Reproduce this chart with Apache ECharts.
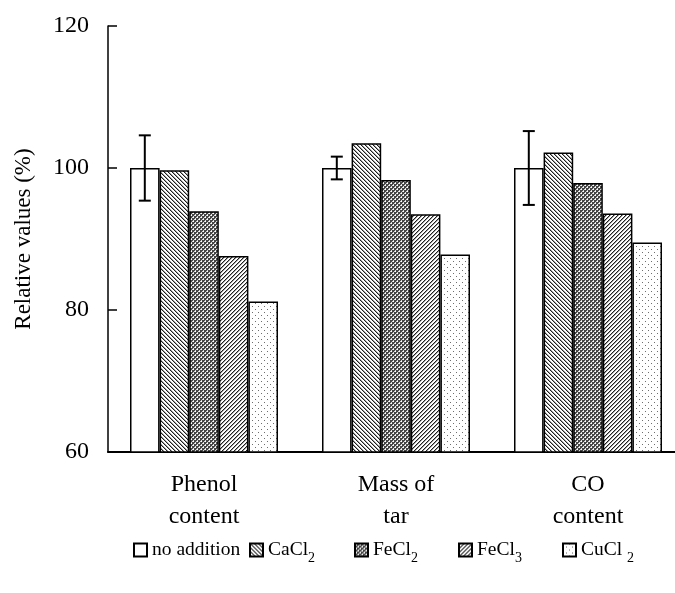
<!DOCTYPE html>
<html>
<head>
<meta charset="utf-8">
<script src="https://cdn.jsdelivr.net/npm/echarts@6/dist/echarts.min.js"></script>
<style>
  html, body { margin: 0; padding: 0; background: #fff; }
  #chart { width: 675px; height: 593px; }
</style>
</head>
<body>
<div id="chart"></div>
<script>
// data
var categories = ['Phenol\ncontent', 'Mass of\ntar', 'CO\ncontent'];
var seriesNames = ['no addition', 'CaCl2', 'FeCl2', 'FeCl3', 'CuCl2'];
var noAddition = [100, 100, 100];
var noAdditionErr = [4.6, 1.6, 5.2];
var cacl2 = [99.7, 103.5, 102.2];
var fecl2 = [93.9, 98.3, 97.9];
var fecl3 = [87.6, 93.5, 93.6];
var cucl2 = [81.2, 87.8, 89.5];
var yTicks = [60, 80, 100, 120];

var FONT = "'Liberation Serif', 'Times New Roman', serif";
var BAR_W = 29.6;

// small tiles used as bar fills
function tile(size, fn) {
    var c = document.createElement('canvas');
    c.width = c.height = size;
    var ctx = c.getContext('2d');
    var img = ctx.createImageData(size, size);
    for (var y = 0; y < size; y++) {
        for (var x = 0; x < size; x++) {
            var v = fn(x, y);
            var i = (y * size + x) * 4;
            img.data[i] = img.data[i + 1] = img.data[i + 2] = v;
            img.data[i + 3] = 255;
        }
    }
    ctx.putImageData(img, 0, 0);
    return { image: c, repeat: 'repeat' };
}
var back = tile(4, function (x, y) {
    var d = ((x - y) % 4 + 4) % 4;
    return d === 0 ? 30 : (d === 1 ? 160 : 255);
});
var fwd = tile(4, function (x, y) {
    var d = (x + y) % 4;
    return d === 0 ? 30 : (d === 1 ? 160 : 255);
});
var check = tile(4, function (x, y) {
    if ((x === 1 && y === 1) || (x === 3 && y === 3)) return 255;
    if ((x === 0 && y === 1) || (x === 1 && y === 0) || (x === 2 && y === 3) || (x === 3 && y === 2)) return 215;
    return 70;
});
var dots = tile(6, function (x, y) {
    if ((x === 0 && y === 0) || (x === 3 && y === 3)) return 110;
    return 255;
});

var fills = ['#ffffff', back, check, fwd, dots];
var values = [noAddition, cacl2, fecl2, fecl3, cucl2];

var series = seriesNames.map(function (name, k) {
    return {
        name: name,
        type: 'bar',
        barWidth: BAR_W,
        barGap: '0%',
        data: values[k],
        itemStyle: { color: fills[k], borderColor: '#000', borderWidth: 1.5 }
    };
});

series.push({
    type: 'custom',
    name: 'err',
    z: 10,
    data: noAddition.map(function (v, i) { return [i, v, noAdditionErr[i]]; }),
    renderItem: function (params, api) {
        var i = api.value(0), m = api.value(1), e = api.value(2);
        var top = api.coord([i, m + e]);
        var bot = api.coord([i, m - e]);
        var x = top[0] - 2 * BAR_W;
        var st = { stroke: '#000', lineWidth: 2 };
        return {
            type: 'group',
            children: [
                { type: 'line', shape: { x1: x, y1: top[1], x2: x, y2: bot[1] }, style: st },
                { type: 'line', shape: { x1: x - 6, y1: top[1], x2: x + 6, y2: top[1] }, style: st },
                { type: 'line', shape: { x1: x - 6, y1: bot[1], x2: x + 6, y2: bot[1] }, style: st }
            ]
        };
    }
});

var legendLeft = [128, 244, 349, 453, 557];
var legends = seriesNames.map(function (name, k) {
    return {
        data: [name],
        left: legendLeft[k],
        top: 535,
        icon: 'rect',
        itemWidth: 13,
        itemHeight: 13,
        selectedMode: false,
        formatter: function (n) {
            if (n === 'no addition') return '{t|no addition}';
            var sp = n === 'CuCl2' ? ' ' : '';
            return '{t|' + n.slice(0, -1) + sp + '}{s|' + n.slice(-1) + '}';
        },
        textStyle: {
            rich: {
                t: { fontFamily: FONT, fontSize: 19.5, color: '#000' },
                s: { fontFamily: FONT, fontSize: 14, color: '#000', padding: [16, 0, 0, 0] }
            }
        }
    };
});

var myChart = echarts.init(document.getElementById('chart'));
myChart.setOption({
    animation: false,
    textStyle: { fontFamily: FONT },
    grid: { left: 108, top: 26, width: 576, height: 426, outerBoundsMode: 'none' },
    legend: legends,
    xAxis: {
        type: 'category',
        data: categories,
        axisLine: { lineStyle: { color: '#000', width: 2 } },
        axisTick: { show: false },
        axisLabel: { color: '#000', fontFamily: FONT, fontSize: 24, lineHeight: 32, margin: 17 }
    },
    yAxis: {
        type: 'value',
        min: yTicks[0],
        max: yTicks[yTicks.length - 1],
        interval: 20,
        name: 'Relative values (%)',
        nameLocation: 'middle',
        nameRotate: 90,
        nameGap: 73,
        nameTextStyle: { color: '#000', fontFamily: FONT, fontSize: 23 },
        axisLine: { show: true, lineStyle: { color: '#000', width: 1.5 } },
        axisTick: { show: true, inside: true, length: 9, lineStyle: { color: '#000', width: 1.5 } },
        axisLabel: { color: '#000', fontFamily: FONT, fontSize: 24, margin: 19 },
        splitLine: { show: false }
    },
    series: series
});
</script>
</body>
</html>
